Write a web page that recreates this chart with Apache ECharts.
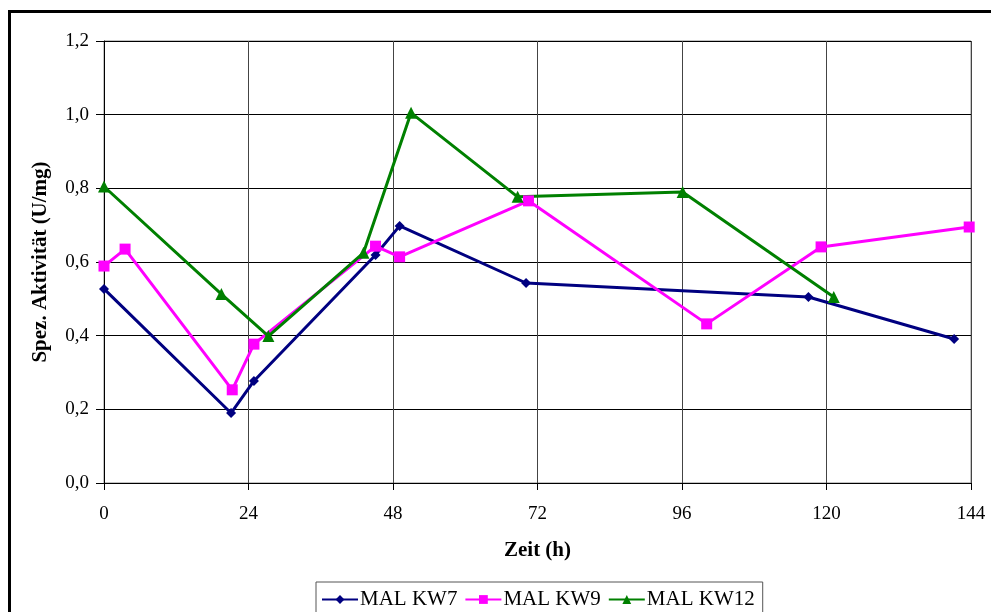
<!DOCTYPE html>
<html><head><meta charset="utf-8">
<script src="https://cdn.jsdelivr.net/npm/echarts@6/dist/echarts.min.js"></script>
<style>html,body{margin:0;padding:0;background:#fff}#c{width:991px;height:612px}</style>
</head><body><div id="c"></div>
<script>
const seriesNames = ['MAL KW7', 'MAL KW9', 'MAL KW12'];
const kw7 = [[0,0.527],[21.1,0.19],[24.9,0.277],[45.1,0.619],[49.1,0.698],[70.1,0.543],[117,0.505],[141.2,0.391]];
const kw9 = [[0,0.589],[3.5,0.635],[21.3,0.253],[24.9,0.377],[45.1,0.643],[49.1,0.614],[70.5,0.766],[100.1,0.432],[119.1,0.641],[143.7,0.695]];
const kw12 = [[0,0.805],[19.5,0.513],[27.3,0.399],[43.1,0.625],[51.0,1.005],[68.7,0.777],[96.1,0.790],[121.2,0.505]];
const xTicks = [0,24,48,72,96,120,144];
const yTicks = ['0,0','0,2','0,4','0,6','0,8','1,0','1,2'];
const colors = ['#000080','#FF00FF','#008000'];
const font = '"Liberation Serif", "Times New Roman", serif';

const chart = echarts.init(document.getElementById('c'), null, {renderer:'canvas'});
chart.setOption({
  animation:false,
  backgroundColor:'#fff',
  graphic:[{type:'rect', shape:{x:9.5,y:11.5,width:1100,height:800}, style:{fill:'none',stroke:'#000',lineWidth:3}, z:-1}],
  grid:{left:104, top:41, right:20, bottom:129, show:true, borderColor:'#888', borderWidth:1, backgroundColor:'transparent'},
  xAxis:{type:'value', min:xTicks[0], max:xTicks[xTicks.length-1], interval:24,
    name:'Zeit (h)', nameLocation:'middle', nameGap:57,
    nameTextStyle:{fontFamily:font, fontSize:21, fontWeight:'bold', color:'#000'},
    axisLine:{show:true, onZero:false, lineStyle:{color:'#000', width:1}},
    axisTick:{show:true, length:7, inside:false, lineStyle:{color:'#000'}},
    axisLabel:{fontFamily:font, fontSize:19, color:'#000', margin:22},
    splitLine:{show:true, lineStyle:{color:'#444', width:1}}},
  yAxis:{type:'value', min:0, max:1.2, interval:0.2,
    name:'Spez. Aktivität (U/mg)', nameLocation:'middle', nameGap:53,
    nameTextStyle:{fontFamily:font, fontSize:21, fontWeight:'bold', color:'#000'},
    axisLine:{show:true, lineStyle:{color:'#000', width:1}},
    axisTick:{show:true, length:8, lineStyle:{color:'#000'}},
    axisLabel:{fontFamily:font, fontSize:19, color:'#000', margin:15,
      formatter:function(v){return yTicks[Math.round(v/0.2)];}},
    splitLine:{show:true, lineStyle:{color:'#000', width:1}}},
  legend:{left:316, top:582, orient:'horizontal', data:seriesNames,
    borderColor:'#555', borderWidth:1, padding:[7,8,20,5], itemGap:7,
    itemWidth:36, itemHeight:11,
    textStyle:{fontFamily:font, fontSize:21, color:'#000', padding:[0,0,0,-3]}},
  series:[
    {name:seriesNames[0], type:'line', data:kw7, symbol:'diamond', symbolSize:10, color:colors[0],
     lineStyle:{width:3, color:colors[0]}, itemStyle:{color:colors[0]}},
    {name:seriesNames[1], type:'line', data:kw9, symbol:'rect', symbolSize:11, color:colors[1],
     lineStyle:{width:3, color:colors[1]}, itemStyle:{color:colors[1]}},
    {name:seriesNames[2], type:'line', data:kw12, symbol:'triangle', symbolSize:12, color:colors[2],
     lineStyle:{width:3, color:colors[2]}, itemStyle:{color:colors[2]}}
  ]
});
</script></body></html>
